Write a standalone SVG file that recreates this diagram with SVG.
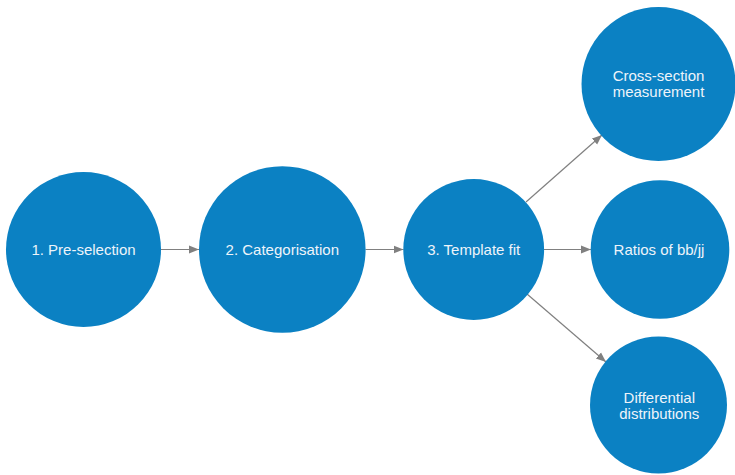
<svg xmlns="http://www.w3.org/2000/svg" width="735" height="475" viewBox="0 0 735 475">
<style>
.node circle{fill:#0b81c3}
.node text{fill:#eef4fa;font-family:"Liberation Sans",Arial,sans-serif;font-size:15px;text-anchor:middle}
.edges line{stroke:#808080;stroke-width:1.2;fill:none}
</style>
<defs>
<marker id="arr" viewBox="0 0 10 10" refX="10" refY="5" markerWidth="10" markerHeight="10" markerUnits="userSpaceOnUse" orient="auto">
<path d="M0,1 L10,5 L0,9 Z" fill="#808080"/>
</marker>
</defs>
<rect width="735" height="475" fill="#fff"/>
<g class="edges">
<line x1="161" y1="249.5" x2="199" y2="249.5" marker-end="url(#arr)"/>
<line x1="365.5" y1="249.5" x2="403.5" y2="249.5" marker-end="url(#arr)"/>
<line x1="544" y1="249.5" x2="591" y2="249.5" marker-end="url(#arr)"/>
<line x1="526" y1="202" x2="602" y2="135" marker-end="url(#arr)"/>
<line x1="527" y1="294" x2="606" y2="362" marker-end="url(#arr)"/>
</g>
<g id="n1" class="node"><circle cx="83.5" cy="249.5" r="77.5"/><text x="83.5" y="254.5">1. Pre-selection</text></g>
<g id="n2" class="node"><circle cx="282.3" cy="249.5" r="83.3"/><text x="282.3" y="254.5">2. Categorisation</text></g>
<g id="n3" class="node"><circle cx="473.7" cy="249.5" r="70.4"/><text x="473.7" y="254.5">3. Template fit</text></g>
<g id="n4" class="node"><circle cx="658.5" cy="84" r="77"/><text x="658.5" y="80.5">Cross-section</text><text x="658.5" y="97">measurement</text></g>
<g id="n5" class="node"><circle cx="660" cy="249.5" r="69.3"/><text x="659" y="254.5">Ratios of bb/jj</text></g>
<g id="n6" class="node"><circle cx="658.5" cy="405" r="68.5"/><text x="659.3" y="402.5">Differential</text><text x="659.3" y="419">distributions</text></g>
</svg>
